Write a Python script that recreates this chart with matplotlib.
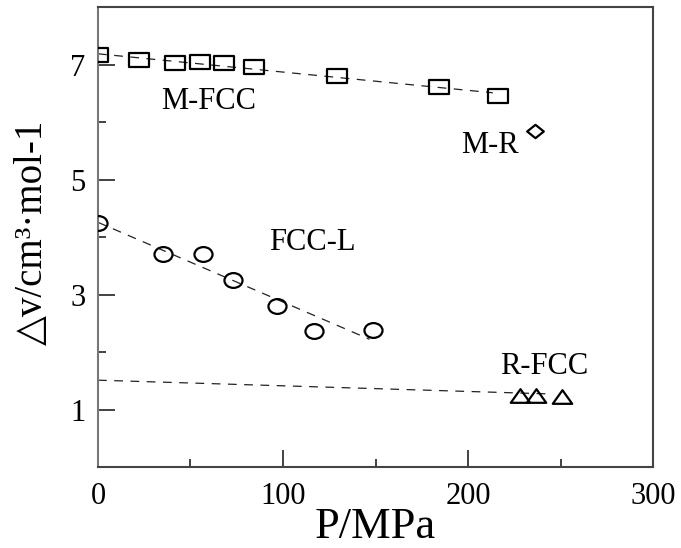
import numpy as np
import matplotlib
matplotlib.use("Agg")
import matplotlib.pyplot as plt
from matplotlib.path import Path

plt.rcParams['font.family'] = ['Liberation Serif', 'DejaVu Sans']

# M -> FCC transition (squares)
p_mfcc = [0, 22.3, 41.6, 55, 68.3, 84.5, 129, 184.3, 216.4]
dv_mfcc = [7.16, 7.07, 7.03, 7.04, 7.02, 6.95, 6.80, 6.61, 6.45]

# M -> R point (diamond)
p_mr = [236]
dv_mr = [5.84]

# FCC -> L melting (circles)
p_fccl = [0, 35, 57, 73, 96.6, 116.8, 148.8]
dv_fccl = [4.24, 3.71, 3.71, 3.26, 2.80, 2.37, 2.39]

# R -> FCC (triangles) and its guide line
p_rfcc = [228, 237, 250.6]
dv_rfcc = [1.23, 1.23, 1.21]
p_rfcc_line = [0, 245]
dv_rfcc_line = [1.51, 1.27]


def shape(verts):
    verts = list(verts) + [verts[0]]
    codes = [Path.MOVETO] + [Path.LINETO] * (len(verts) - 2) + [Path.CLOSEPOLY]
    return Path(verts, codes)

# slightly wide open markers
sq_marker = shape([(-1, -0.75), (1, -0.75), (1, 0.75), (-1, 0.75)])
tri_marker = shape([(-1, -0.65), (1, -0.65), (0, 0.75)])
dia_marker = shape([(-1, 0), (0, -0.8), (1, 0), (0, 0.8)])
circ = Path.unit_circle()
circ_marker = Path(circ.vertices * [1, 0.82], circ.codes)

fig = plt.figure(figsize=(6.81, 5.48), dpi=100)
ax = fig.add_axes([0.1439, 0.1478, 0.815, 0.8394])

dash = dict(color='#222222', lw=0.9, ls=(0, (7, 6)), zorder=1)

# linear fits through the data
k, b = np.polyfit(p_mfcc, dv_mfcc, 1)
xx = np.linspace(0, max(p_mfcc) - 3, 50)
ax.plot(xx, k * xx + b, **dash)
k, b = np.polyfit(p_fccl, dv_fccl, 1)
xx = np.linspace(0, max(p_fccl) - 2, 50)
ax.plot(xx, k * xx + b, **dash)
ax.plot(p_rfcc_line, dv_rfcc_line, **dash)

mk = dict(ls='none', mfc='none', mec='black', mew=1.6, zorder=3)
ax.plot(p_mfcc, dv_mfcc, marker=sq_marker, ms=14, **mk)
ax.plot(p_mr, dv_mr, marker=dia_marker, ms=12, **mk)
ax.plot(p_fccl, dv_fccl, marker=circ_marker, ms=13, **mk)
ax.plot(p_rfcc, dv_rfcc, marker=tri_marker, ms=14, **mk)

fs = 22
ax.text(60, 6.35, 'M-FCC', fontsize=fs, ha='center', va='center')
ax.text(212, 5.6, 'M-R', fontsize=fs, ha='center', va='center')
ax.text(115.7, 3.9, 'FCC-L', fontsize=fs, ha='center', va='center')
ax.text(241, 1.75, 'R-FCC', fontsize=fs, ha='center', va='center')

ax.set_xlim(0, 300)
ax.set_ylim(0, 8)
ax.set_xticks([0, 100, 200, 300])
ax.set_xticks([50, 150, 250], minor=True)
ax.set_yticks([1, 3, 5, 7])
ax.set_yticks([2, 4, 6], minor=True)
ax.tick_params(which='both', direction='in', labelsize=fs, color='#222222')
ax.tick_params(which='major', length=12, width=1.2)
ax.tick_params(which='minor', length=6, width=1.2)
ax.tick_params(axis='x', pad=11)
ax.tick_params(axis='y', pad=9)

for s in ax.spines.values():
    s.set_color('#444444')
    s.set_linewidth(1.5)
ax.spines['left'].set_color('#777777')

ax.set_xlabel('P/MPa', fontsize=32, labelpad=-3)
ax.set_ylabel('△v/cm³·mol-1', fontsize=28)
ax.yaxis.set_label_coords(-0.085, 0.51)

fig.savefig('out.png', dpi=100)
